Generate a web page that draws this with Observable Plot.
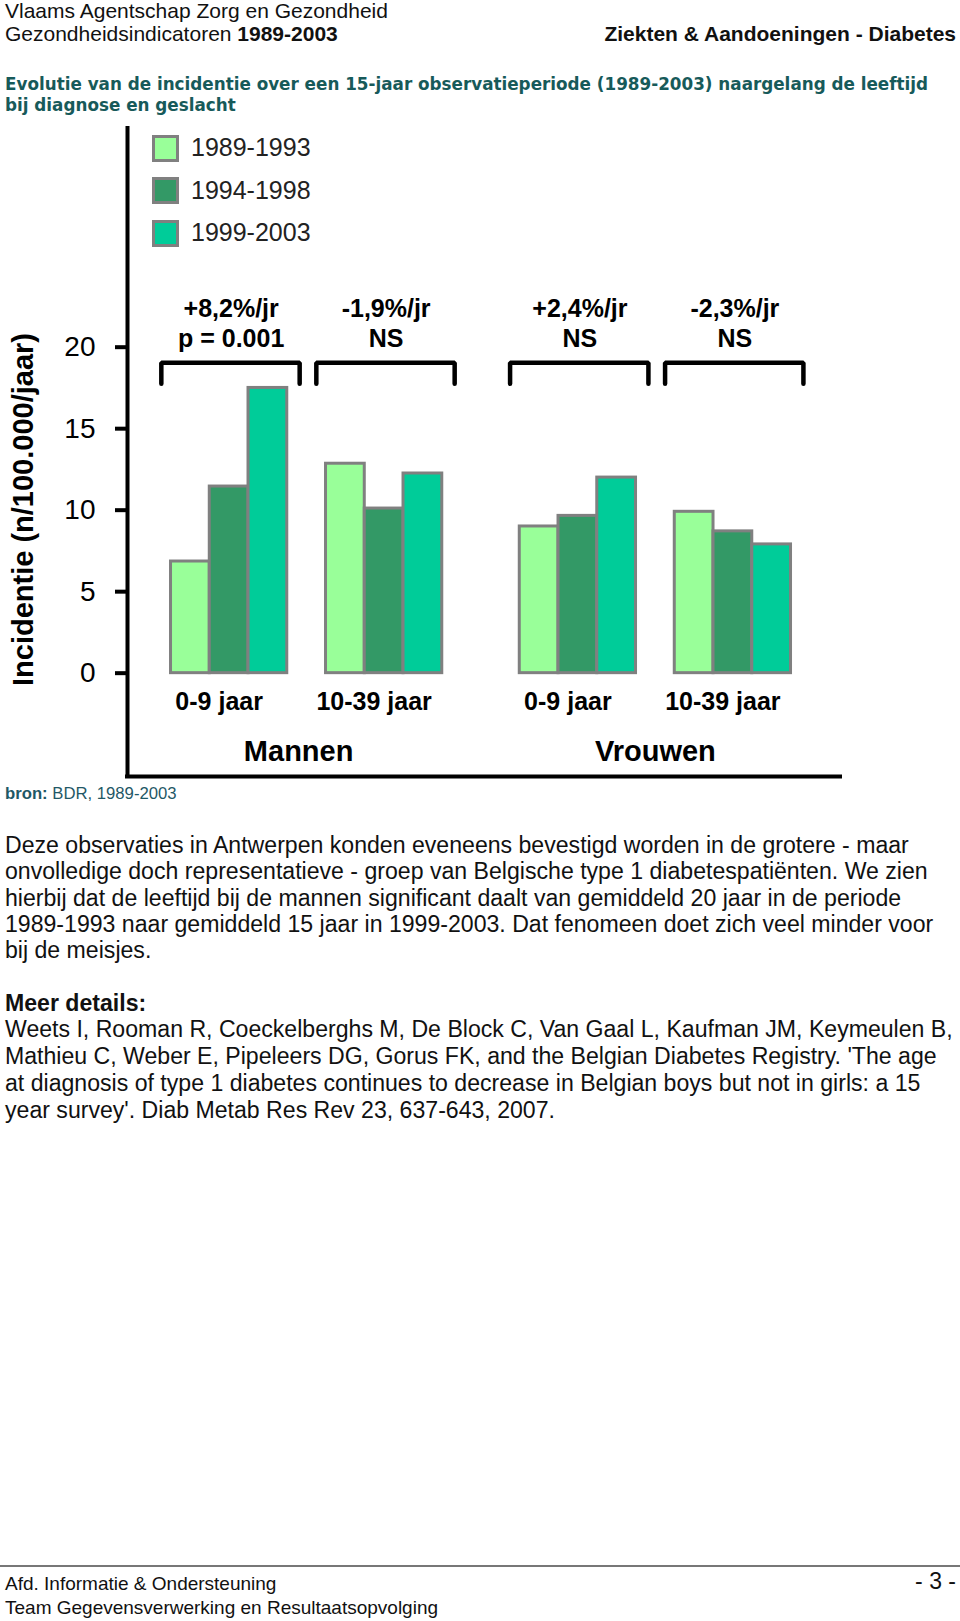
<!DOCTYPE html>
<html><head><meta charset="utf-8">
<script src="https://cdn.jsdelivr.net/npm/d3@7"></script>
<script src="https://cdn.jsdelivr.net/npm/@observablehq/plot@0.6"></script>
<style>
html,body{margin:0;padding:0;background:#fff;}
body{width:960px;height:1621px;position:relative;overflow:hidden;font-family:"Liberation Sans",Arial,sans-serif;color:#111;}
.t{position:absolute;white-space:nowrap;line-height:1;transform:translateY(-50%);}
#chart{position:absolute;left:0;top:120px;}
.sw{position:absolute;box-sizing:border-box;width:27px;height:27px;border:3px solid #808080;}
.title{font-family:"DejaVu Sans",Verdana,sans-serif;font-weight:bold;color:#175a5a;font-size:16.8px;}
</style></head><body>
<script>
// ---------------- data ----------------
const genders = ["Mannen", "Vrouwen"];
const ageGroups = ["0-9 jaar", "10-39 jaar"];
const periods = ["1989-1993", "1994-1998", "1999-2003"];
const periodColors = ["#99ff99", "#339966", "#00cc99"];
const incidenceMannen09 = [6.85, 11.45, 17.5];
const incidenceMannen1039 = [12.85, 10.1, 12.25];
const incidenceVrouwen09 = [9.0, 9.65, 12.0];
const incidenceVrouwen1039 = [9.9, 8.7, 7.9];
const trendLabels = ["+8,2%/jr", "-1,9%/jr", "+2,4%/jr", "-2,3%/jr"];
const significance = ["p = 0.001", "NS", "NS", "NS"];
const yTicks = [0, 5, 10, 15, 20];
const yLabel = "Incidentie (n/100.000/jaar)";

// ---------------- layout (slots) ----------------
const series = [[incidenceMannen09, incidenceMannen1039], [incidenceVrouwen09, incidenceVrouwen1039]];
const groups = [];
let slot = 0;
genders.forEach((g, gi) => {
  ageGroups.forEach((a, ai) => {
    const k = groups.length;
    groups.push({gender: g, age: a, start: slot, values: series[gi][ai], trend: trendLabels[k], sig: significance[k]});
    slot += periods.length + 1;
  });
  slot += 1;
});
const bars = groups.flatMap(gr => gr.values.map((v, i) => ({
  gender: gr.gender, age: gr.age, period: periods[i], value: v, x1: gr.start + i, x2: gr.start + i + 1
})));
const genderCenters = genders.map(g => {
  const gs = groups.filter(d => d.gender === g);
  return {gender: g, x: (gs[0].start + gs[gs.length - 1].start + periods.length) / 2};
});
const bracketTop = 19.05, bracketLeg = 1.3, bracketL = 0.25, bracketR = 0.32;
const brackets = groups.flatMap((gr, k) => {
  const a = gr.start - bracketL, b = gr.start + periods.length + bracketR;
  return [[a, bracketTop - bracketLeg], [a, bracketTop], [b, bracketTop], [b, bracketTop - bracketLeg]]
    .map(([x, y]) => ({k, x, y}));
});
const xDomain = [-1.123, 17.277];
const yDomain = [-6.34, 33.54];

const chart = Plot.plot({
  width: 960, height: 660,
  marginTop: 6, marginBottom: 4, marginLeft: 127, marginRight: 120,
  x: {type: "linear", domain: xDomain, axis: null},
  y: {domain: yDomain},
  color: {domain: periods, range: periodColors},
  style: {fontFamily: "'Liberation Sans', Arial, sans-serif", color: "#000", background: "transparent", overflow: "visible"},
  marks: [
    Plot.rect(bars, {x1: "x1", x2: "x2", y1: () => 0, y2: "value", fill: "period", stroke: "#808080", strokeWidth: 3}),
    Plot.axisY({ticks: yTicks, tickSize: 12, tickPadding: 20, fontSize: 28, strokeWidth: 4, label: null}),
    Plot.ruleX([xDomain[0]], {x: d => d, y1: () => yDomain[0], y2: () => yDomain[1], strokeWidth: 4, stroke: "#000"}),
    Plot.ruleY([yDomain[0]], {y: d => d, x1: () => xDomain[0], x2: () => xDomain[1], strokeWidth: 4, stroke: "#000", strokeLinecap: "square"}),
    Plot.line(brackets, {x: "x", y: "y", z: "k", stroke: "#000", strokeWidth: 4.5, strokeLinejoin: "miter"}),
    Plot.text(groups, {x: d => d.start + periods.length / 2, y: () => bracketTop, text: d => d.trend + "\n" + d.sig,
      lineAnchor: "bottom", lineHeight: 1.19, dy: -16, dx: 2, fontSize: 25, fontWeight: "bold", fill: "#000"}),
    Plot.text(groups, {x: d => d.start + periods.length / 2, y: () => 0, text: "age", dy: 28.5, dx: -10,
      fontSize: 25, fontWeight: "bold", fill: "#000"}),
    Plot.text(genderCenters.filter(d => d.gender === "Mannen"), {x: "x", y: () => 0, text: "gender", dy: 78.5, dx: -8, fontSize: 29, fontWeight: "bold", fill: "#000"}),
    Plot.text(genderCenters.filter(d => d.gender === "Vrouwen"), {x: "x", y: () => 0, text: "gender", dy: 78.5, dx: 0, fontSize: 29, fontWeight: "bold", fill: "#000"}),
    Plot.text([yLabel], {text: d => d, frameAnchor: "left", textAnchor: "middle", rotate: -90, dx: -104, dy: 58, fontSize: 29, fontWeight: "bold", fill: "#000"})
  ]
});
chart.id = "chart";
document.body.appendChild(chart);

// ---------------- legend ----------------
const legendTops = periods.map((p, i) => 134.5 + i * 42.7);
periods.forEach((p, i) => {
  const sw = document.createElement("div");
  sw.className = "sw";
  sw.style.left = "152px";
  sw.style.top = legendTops[i] + "px";
  sw.style.background = periodColors[i];
  document.body.appendChild(sw);
  const lb = document.createElement("div");
  lb.className = "t";
  lb.style.left = "191px";
  lb.style.top = (legendTops[i] + 12.5) + "px";
  lb.style.fontSize = "25px";
  lb.style.color = "#222";
  lb.textContent = p;
  document.body.appendChild(lb);
});

// ---------------- page text ----------------
function line(html, top, css) {
  const d = document.createElement("div");
  d.className = "t";
  d.style.top = top + "px";
  d.style.left = "5px";
  Object.assign(d.style, css || {});
  d.innerHTML = html;
  document.body.appendChild(d);
  return d;
}
line("Vlaams Agentschap Zorg en Gezondheid", 10, {fontSize: "21px"});
line("Gezondheidsindicatoren <b>1989-2003</b>", 33, {fontSize: "21px"});
line("<b>Ziekten &amp; Aandoeningen - Diabetes</b>", 33, {fontSize: "21px", left: "auto", right: "4px"});
line("Evolutie van de incidentie over een 15-jaar observatieperiode (1989-2003) naargelang de leeftijd", 84, {}).classList.add("title");
line("bij diagnose en geslacht", 104.5, {}).classList.add("title");
line("<b>bron:</b> BDR, 1989-2003", 793.5, {fontSize: "16.7px", color: "#1f5866"});

const para = [
  "Deze observaties in Antwerpen konden eveneens bevestigd worden in de grotere - maar",
  "onvolledige doch representatieve - groep van Belgische type 1 diabetespatiënten. We zien",
  "hierbij dat de leeftijd bij de mannen significant daalt van gemiddeld 20 jaar in de periode",
  "1989-1993 naar gemiddeld 15 jaar in 1999-2003. Dat fenomeen doet zich veel minder voor",
  "bij de meisjes."
];
const paraTops = [845.5, 872, 898.5, 925, 951];
para.forEach((s, i) => line(s, paraTops[i], {fontSize: "23.1px"}));
line("<b>Meer details:</b>", 1003.5, {fontSize: "23.1px"});
const refs = [
  "Weets I, Rooman R, Coeckelberghs M, De Block C, Van Gaal L, Kaufman JM, Keymeulen B,",
  "Mathieu C, Weber E, Pipeleers DG, Gorus FK, and the Belgian Diabetes Registry. 'The age",
  "at diagnosis of type 1 diabetes continues to decrease in Belgian boys but not in girls: a 15",
  "year survey'. Diab Metab Res Rev 23, 637-643, 2007."
];
const refTops = [1030.3, 1057, 1084, 1111];
refs.forEach((s, i) => line(s, refTops[i], {fontSize: "23.1px"}));

const rule = document.createElement("div");
Object.assign(rule.style, {position: "absolute", left: "0", top: "1565px", width: "960px", height: "1.5px", background: "#777"});
document.body.appendChild(rule);
line("Afd. Informatie &amp; Ondersteuning", 1583, {fontSize: "19px"});
line("Team Gegevensverwerking en Resultaatsopvolging", 1606.5, {fontSize: "19px"});
line("- 3 -", 1581, {fontSize: "23px", left: "auto", right: "4px"});
</script>
</body></html>
